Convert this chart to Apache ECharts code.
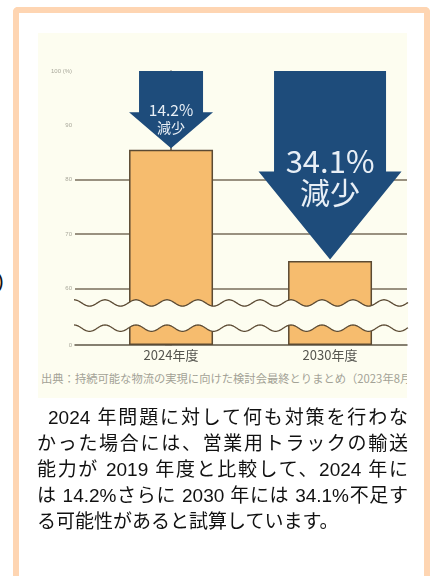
<!DOCTYPE html>
<html><head><meta charset="utf-8">
<script src="https://cdn.jsdelivr.net/npm/echarts@6/dist/echarts.min.js"></script>
<style>
html,body{margin:0;padding:0;width:430px;height:576px;overflow:hidden;background:#fff;}
#frame{position:absolute;left:13px;top:7px;width:405px;height:900px;border:6px solid #FED5B2;border-bottom:none;border-radius:5px 5px 0 0;}
#stray{position:absolute;left:-3px;top:270px;font:20px "Liberation Sans",sans-serif;color:#111;}
#bg{position:absolute;left:38px;top:33px;width:369px;height:365px;background:#FDFDF0;overflow:hidden;}
#src{position:absolute;left:3px;top:337px;white-space:nowrap;font:11.3px "Noto Sans CJK JP",sans-serif;color:#a3a296;}
#chart{position:absolute;left:0;top:0;width:430px;height:576px;}
#para{position:absolute;left:37px;top:405px;width:371px;font-size:19px;line-height:26px;color:#111;font-family:"Liberation Sans","Noto Sans CJK JP",sans-serif;}
#para div{white-space:nowrap;text-align:justify;text-align-last:justify;}
#para div.last{text-align-last:left;}
</style></head>
<body>
<div id="frame"></div>
<div id="stray">)</div>
<div id="bg"><div id="src">出典：持続可能な物流の実現に向けた検討会最終とりまとめ（2023年8月）</div></div>
<div id="chart"></div>
<div id="para">
<div style="padding-left:11px">2024 年問題に対して何も対策を行わな</div>
<div>かった場合には、営業用トラックの輸送</div>
<div>能力が 2019 年度と比較して、2024 年に</div>
<div>は 14.2%さらに 2030 年には 34.1%不足す</div>
<div class="last">る可能性があると試算しています。</div>
</div>
<script>
// ---- data ----
const categories = ['2024年度', '2030年度'];
const capacityValues = [85.5, 65.0];          // remaining transport capacity (%), as drawn
const reductionLabels = ['14.2%', '34.1%'];
const reductionWord = '減少';
const yTickValues = [0, 60, 70, 80, 90, 100];
const yTickMarks = [0, 60, 70, 80, 90];
const breakRange = [3.1, 57.3];

// ---- styles ----
const ARROW_GEOM = [
  {shaftHalf: 32, headHalf: 42, headLen: 36, pctSize: 15.5, pctDy: -38, subSize: 14, subDy: -21},
  {shaftHalf: 56, headHalf: 71.5, headLen: 88, pctSize: 31, pctDy: -98, subSize: 30, subDy: -67}
];
const LINE_COLOR = '#776c5b';
const BAR_BORDER = '#5B4A33';
const CREAM = '#FDFDF0';
const JP = '"Noto Sans CJK JP", sans-serif';

const chart = echarts.init(document.getElementById('chart'), null, {renderer: 'canvas'});

chart.setOption({
  animation: false,
  backgroundColor: 'transparent',
  grid: {left: 75, right: 23, top: 71, bottom: 231, containLabel: false, outerBoundsMode: 'none'},
  xAxis: {
    type: 'value', min: -0.604, max: 1.484,
    axisLine: {show: true, onZero: false, lineStyle: {color: '#5d5546', width: 1.5}},
    axisTick: {show: false},
    splitLine: {show: false},
    axisLabel: {
      customValues: [0, 1],
      formatter: v => categories[Math.round(v)] || '',
      fontSize: 13, color: '#55554f', margin: 4, fontFamily: JP
    }
  },
  yAxis: {
    type: 'value', min: 0, max: 100, interval: 10,
    breaks: [{start: breakRange[0], end: breakRange[1], gap: '9.2%'}],
    breakArea: {show: false},
    axisLine: {show: true, lineStyle: {color: '#5d5546', width: 1.5}},
    axisTick: {show: true, customValues: yTickMarks, length: 6, lineStyle: {color: LINE_COLOR, width: 1.5}},
    splitLine: {show: true, showMaxLine: false, showMinLine: false, lineStyle: {color: LINE_COLOR, width: 1.5}},
    axisLabel: {
      customValues: yTickValues,
      formatter: v => v === 100 ? '100 (%)' : String(v),
      fontSize: 6, color: '#a9a89b', margin: 3
    }
  },
  series: [
    {
      type: 'bar', z: 2,
      data: capacityValues.map((v, i) => [i, v]),
      barWidth: 84,
      itemStyle: {color: '#F6BC6E', borderColor: BAR_BORDER, borderWidth: 1.5}
    },
    {
      type: 'custom', z: 3, clip: false,
      data: capacityValues.map((v, i) => [i, v]),
      renderItem: function (params, api) {
        const idx = params.dataIndex;
        const g = ARROW_GEOM[idx];
        const top = api.coord([api.value(0), 100]);
        const tip = api.coord([api.value(0), api.value(1)]);
        const cx = tip[0];
        const ty = top[1];
        const tipY = tip[1] - 1.5;
        const hy = tipY - g.headLen;
        return {
          type: 'group',
          children: [
            {type: 'polygon', shape: {points: [
              [cx - g.shaftHalf, ty], [cx + g.shaftHalf, ty], [cx + g.shaftHalf, hy],
              [cx + g.headHalf, hy], [cx, tipY], [cx - g.headHalf, hy], [cx - g.shaftHalf, hy]
            ]}, style: {fill: '#1E4C7B'}},
            {type: 'text', x: cx, y: tipY + g.pctDy, style: {
              text: reductionLabels[idx], fontSize: g.pctSize, fill: '#E8EFF6',
              align: 'center', verticalAlign: 'middle', fontFamily: JP}},
            {type: 'text', x: cx, y: tipY + g.subDy, style: {
              text: reductionWord, fontSize: g.subSize, fill: '#E8EFF6',
              align: 'center', verticalAlign: 'middle', fontFamily: JP}}
          ]
        };
      }
    }
  ]
});

// wavy break band, derived from the axis scale
(function () {
  const yU = chart.convertToPixel({yAxisIndex: 0}, breakRange[1]);
  const yL = chart.convertToPixel({yAxisIndex: 0}, breakRange[0]);
  const xa = chart.convertToPixel({xAxisIndex: 0}, -0.604) - 1;
  const xb = chart.convertToPixel({xAxisIndex: 0}, 1.484) + 1;
  const A = 3.2, P = 31;
  const wave = (y0) => {
    const pts = [];
    for (let x = xa; x <= xb; x += 1) pts.push([x, y0 - A * Math.cos(2 * Math.PI * (x - xa) / P)]);
    return pts;
  };
  const up = wave(yU), lo = wave(yL);
  const band = up.concat(lo.slice().reverse());
  chart.setOption({
    graphic: [
      {type: 'polygon', z: 50, silent: true, shape: {points: band}, style: {fill: CREAM}},
      {type: 'polyline', z: 51, silent: true, shape: {points: up}, style: {stroke: BAR_BORDER, lineWidth: 1.3, fill: null}},
      {type: 'polyline', z: 51, silent: true, shape: {points: lo}, style: {stroke: BAR_BORDER, lineWidth: 1.3, fill: null}}
    ]
  });
})();
</script>
</body></html>
